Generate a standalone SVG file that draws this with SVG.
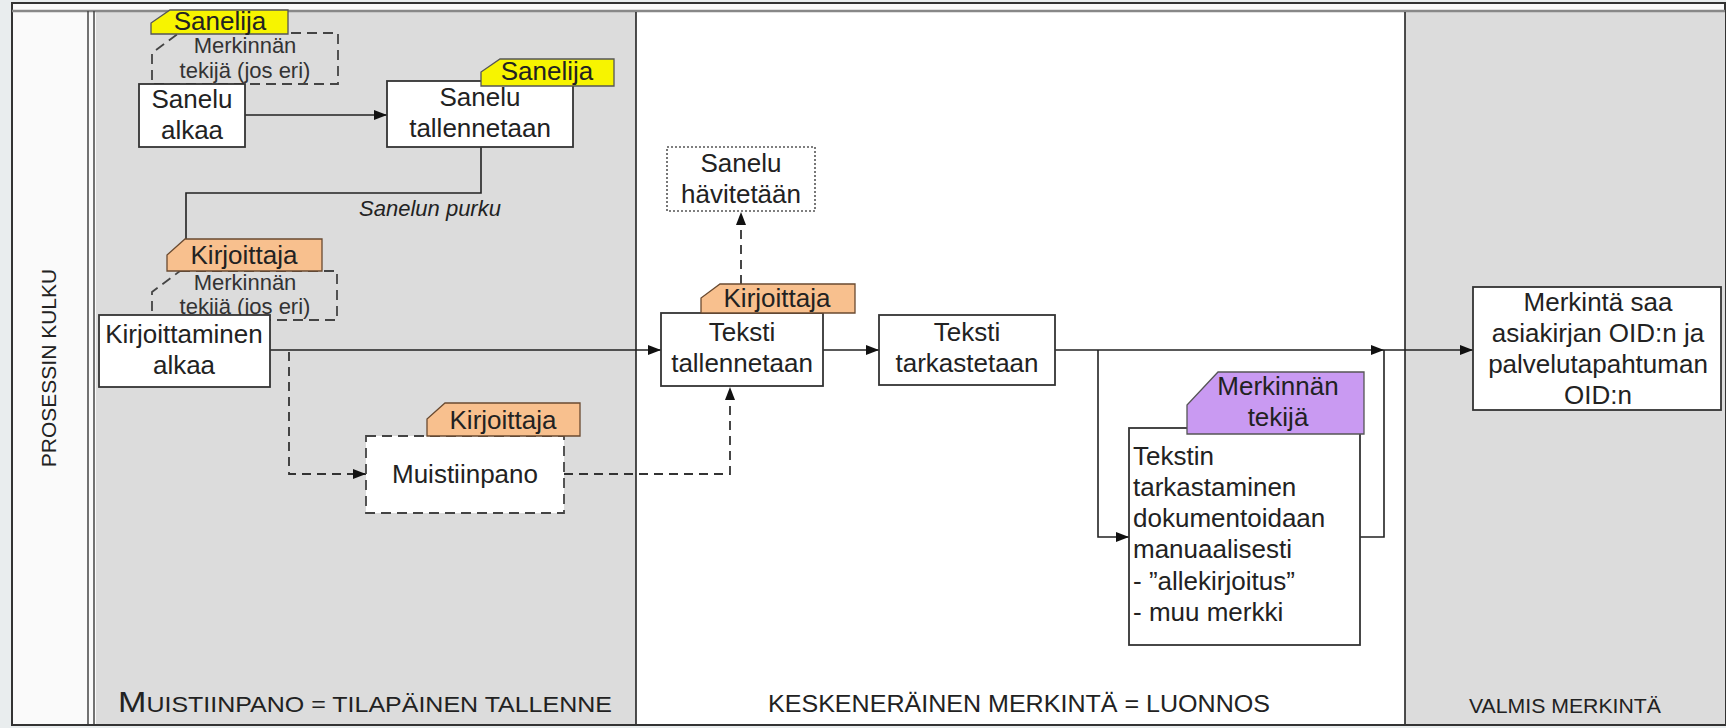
<svg xmlns="http://www.w3.org/2000/svg" width="1726" height="728" viewBox="0 0 1726 728">
<defs>
<marker id="ah" markerWidth="13" markerHeight="10" refX="13" refY="5" orient="auto" markerUnits="userSpaceOnUse"><path d="M0,0 L13,5 L0,10 Z" fill="#111"/></marker>
<style>
text{font-family:"Liberation Sans",Arial,sans-serif;fill:#222}
.t{font-size:26px;text-anchor:middle}
.tl{font-size:26px;text-anchor:start}
.s{font-size:22px;text-anchor:middle;fill:#333}
.box{fill:#fff;stroke:#333;stroke-width:1.8}
.dbox{fill:#fff;stroke:#444;stroke-width:1.8;stroke-dasharray:10 6}
.dgray{fill:#dcdcdc;stroke:#444;stroke-width:1.8;stroke-dasharray:10 6}
.dot{fill:#fff;stroke:#555;stroke-width:1.6;stroke-dasharray:2 2}
.yel{fill:#f7f400;stroke:#555;stroke-width:1.3}
.org{fill:#f8c08e;stroke:#6a4a30;stroke-width:1.3}
.pur{fill:#c99af2;stroke:#555;stroke-width:1.3}
.c{fill:none;stroke:#222;stroke-width:1.6}
.cd{fill:none;stroke:#333;stroke-width:1.8;stroke-dasharray:9 6}
</style>
</defs>

<!-- frame -->
<rect x="0" y="0" width="1726" height="728" fill="#e9edee"/>
<rect x="12" y="3" width="1713" height="722" fill="#fafafa" stroke="#333" stroke-width="2"/>
<rect x="96" y="12" width="540" height="713" fill="#dcdcdc"/>
<rect x="636" y="12" width="769" height="713" fill="#ffffff"/>
<rect x="1405" y="12" width="320" height="713" fill="#dcdcdc"/>
<line x1="12" y1="11" x2="1725" y2="11" stroke="#888" stroke-width="2.5"/>
<line x1="88" y1="11" x2="88" y2="725" stroke="#444" stroke-width="1.5"/>
<line x1="94" y1="11" x2="94" y2="725" stroke="#444" stroke-width="1.5"/>
<line x1="636" y1="12" x2="636" y2="725" stroke="#222" stroke-width="1.6"/>
<line x1="1405" y1="12" x2="1405" y2="725" stroke="#222" stroke-width="1.6"/>
<line x1="12" y1="725" x2="1725" y2="725" stroke="#333" stroke-width="2"/>
<text transform="translate(56,368) rotate(-90)" text-anchor="middle" font-size="21" fill="#333">PROSESSIN KULKU</text>

<!-- lane labels -->
<text x="118" y="712" textLength="494" lengthAdjust="spacingAndGlyphs" fill="#222"><tspan font-size="30">M</tspan><tspan font-size="22">UISTIINPANO = TILAPÄINEN TALLENNE</tspan></text>
<text x="768" y="712" font-size="23" textLength="502" lengthAdjust="spacingAndGlyphs">KESKENERÄINEN MERKINTÄ = LUONNOS</text>
<text x="1469" y="713" font-size="20" textLength="192" lengthAdjust="spacingAndGlyphs">VALMIS MERKINTÄ</text>

<!-- connectors -->
<g id="connectors">
<path class="c" d="M245,115 H387" marker-end="url(#ah)"/>
<path class="c" d="M481,147 V193 H186 V316"/>
<text x="430" y="216" font-size="22" font-style="italic" text-anchor="middle" fill="#333">Sanelun purku</text>
<path class="c" d="M270,350 H661" marker-end="url(#ah)"/>
<path class="cd" d="M289,352 V474 H366" marker-end="url(#ah)"/>
<path class="cd" d="M564,474 H730 V387" marker-end="url(#ah)"/>
<path class="cd" d="M741,284 V212" marker-end="url(#ah)"/>
<path class="c" d="M823,350 H879" marker-end="url(#ah)"/>
<path class="c" d="M1055,350 H1384" marker-end="url(#ah)"/>
<path class="c" d="M1098,350 V537 H1129" marker-end="url(#ah)"/>
<path class="c" d="M1360,537 H1384 V350"/>
<path class="c" d="M1384,350 H1473" marker-end="url(#ah)"/>
</g>

<!-- nodes -->
<g id="n-merk1">
<path class="dgray" d="M179,33 H338 V84 H152 V53 Z"/>
<text class="s" x="245" y="53">Merkinnän</text>
<text class="s" x="245" y="78">tekijä (jos eri)</text>
</g>
<g id="n-sanelija1">
<path class="yel" d="M170,10 H288 V34 H151 V23 Z"/>
<text class="t" x="220" y="30">Sanelija</text>
</g>
<g id="n-sanelu-alkaa">
<rect class="box" x="139" y="84" width="106" height="63"/>
<text class="t" x="192" y="108">Sanelu</text>
<text class="t" x="192" y="139">alkaa</text>
</g>
<g id="n-sanelu-tallennetaan">
<rect class="box" x="387" y="81" width="186" height="66"/>
<text class="t" x="480" y="106">Sanelu</text>
<text class="t" x="480" y="137">tallennetaan</text>
</g>
<g id="n-sanelija2">
<path class="yel" d="M500,59 H614 V86 H481 V72 Z"/>
<text class="t" x="547" y="80">Sanelija</text>
</g>
<g id="n-merk2">
<path class="dgray" d="M180,271 H337 V320 H152 V292 Z"/>
<text class="s" x="245" y="290">Merkinnän</text>
<text class="s" x="245" y="314">tekijä (jos eri)</text>
</g>
<g id="n-kirjoittaja1">
<path class="org" d="M185,239 H322 V271 H167 V255 Z"/>
<text class="t" x="244" y="264">Kirjoittaja</text>
</g>
<g id="n-kirjoittaminen">
<rect class="box" x="99" y="315" width="171" height="72"/>
<text class="t" x="184" y="343">Kirjoittaminen</text>
<text class="t" x="184" y="374">alkaa</text>
</g>
<g id="n-muistiinpano">
<rect class="dbox" x="366" y="436" width="198" height="77"/>
<text class="t" x="465" y="483">Muistiinpano</text>
</g>
<g id="n-kirjoittaja2">
<path class="org" d="M445,403 H580 V436 H427 V419 Z"/>
<text class="t" x="503" y="429">Kirjoittaja</text>
</g>
<g id="n-havitetaan">
<rect class="dot" x="667" y="147" width="148" height="64"/>
<text class="t" x="741" y="172">Sanelu</text>
<text class="t" x="741" y="203">hävitetään</text>
</g>
<g id="n-teksti-tallennetaan">
<rect class="box" x="661" y="313" width="162" height="73"/>
<text class="t" x="742" y="341">Teksti</text>
<text class="t" x="742" y="372">tallennetaan</text>
</g>
<g id="n-kirjoittaja3">
<path class="org" d="M720,284 H855 V313 H701 V298 Z"/>
<text class="t" x="777" y="307">Kirjoittaja</text>
</g>
<g id="n-teksti-tarkastetaan">
<rect class="box" x="879" y="315" width="176" height="70"/>
<text class="t" x="967" y="341">Teksti</text>
<text class="t" x="967" y="372">tarkastetaan</text>
</g>
<g id="n-tekstin-tarkastaminen">
<rect class="box" x="1129" y="428" width="231" height="217"/>
<text class="tl" x="1133" y="465">Tekstin</text>
<text class="tl" x="1133" y="496">tarkastaminen</text>
<text class="tl" x="1133" y="527">dokumentoidaan</text>
<text class="tl" x="1133" y="558">manuaalisesti</text>
<text class="tl" x="1133" y="590">- ”allekirjoitus”</text>
<text class="tl" x="1133" y="621">- muu merkki</text>
</g>
<g id="n-merkinnan-tekija">
<path class="pur" d="M1218,372 H1364 V434 H1187 V405 Z"/>
<text class="t" x="1278" y="395" fill="#2e1048">Merkinnän</text>
<text class="t" x="1278" y="426" fill="#2e1048">tekijä</text>
</g>
<g id="n-merkinta-saa">
<rect class="box" x="1473" y="287" width="248" height="123"/>
<text class="t" x="1598" y="311">Merkintä saa</text>
<text class="t" x="1598" y="342">asiakirjan OID:n ja</text>
<text class="t" x="1598" y="373">palvelutapahtuman</text>
<text class="t" x="1598" y="404">OID:n</text>
</g>
</svg>
